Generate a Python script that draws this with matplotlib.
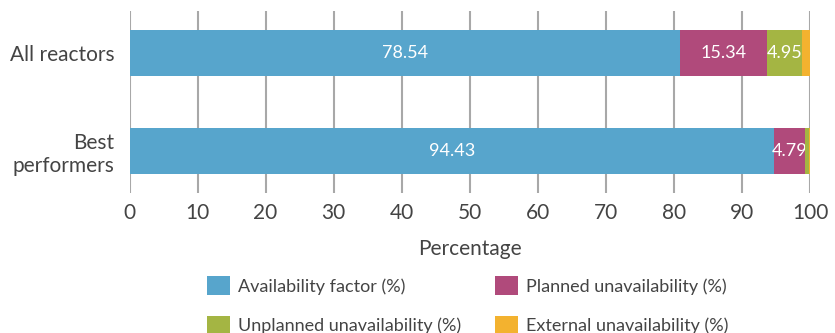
import numpy as np
import matplotlib
matplotlib.use('Agg')
import matplotlib.pyplot as plt

plt.rcParams['font.family'] = ['Lato', 'DejaVu Sans']

# data
groups = ['All reactors', 'Best\nperformers']
series = ['Availability factor (%)', 'Planned unavailability (%)',
          'Unplanned unavailability (%)', 'External unavailability (%)']
# bar lengths as drawn in the reference
availability = [80.9, 94.7]
planned = [12.8, 4.6]
unplanned = [5.1, 0.5]
external = [1.2, 0.2]
# printed labels (empty = not shown)
availability_lbl = ['78.54', '94.43']
planned_lbl = ['15.34', '4.79']
unplanned_lbl = ['4.95', '']
external_lbl = ['', '']
xticks = [0, 10, 20, 30, 40, 50, 60, 70, 80, 90, 100]

colors = ['#57a5cc', '#b04a7b', '#a4b543', '#f3b22f']
text_col = '#444444'

fig = plt.figure(figsize=(8.35, 3.33), dpi=100)
ax = fig.add_axes([129.5 / 835, 1 - 193 / 333, (810 - 129.5) / 835, 182 / 333])

y = np.arange(len(groups))
left = np.zeros(len(groups))
handles = []
for vals, lbls, c, name in zip([availability, planned, unplanned, external],
                               [availability_lbl, planned_lbl, unplanned_lbl, external_lbl],
                               colors, series):
    bars = ax.barh(y, vals, left=left, height=0.47, color=c, label=name, zorder=3)
    ax.bar_label(bars, labels=lbls, label_type='center', color='white', fontsize=13)
    handles.append(bars)
    left += np.array(vals)

ax.set_xlim(0, 100)
ax.set_ylim(1.43, -0.43)
ax.set_xticks(xticks)
ax.set_yticks(y)
ax.set_yticklabels(groups, fontsize=15, color=text_col)
ax.tick_params(axis='x', length=0, pad=7, labelsize=15, labelcolor=text_col)
ax.tick_params(axis='y', length=0, pad=11)
ax.grid(axis='x', color='#a8a8a8', linewidth=1.5, zorder=0)
for s in ax.spines.values():
    s.set_visible(False)
ax.set_xlabel('Percentage', fontsize=15, color=text_col, labelpad=12)

# row-wise order: availability, planned / unplanned, external
order = [0, 2, 1, 3]
fig.legend([handles[i] for i in order], [series[i] for i in order],
           loc='upper left', bbox_to_anchor=(207 / 835, 1 - 276 / 333), ncol=2,
           frameon=False, fontsize=13, handlelength=1.25, handleheight=1.25,
           handletextpad=0.45, columnspacing=1.9, labelspacing=1.15,
           borderpad=0, borderaxespad=0, labelcolor=text_col)

fig.savefig('out.png', dpi=100)
